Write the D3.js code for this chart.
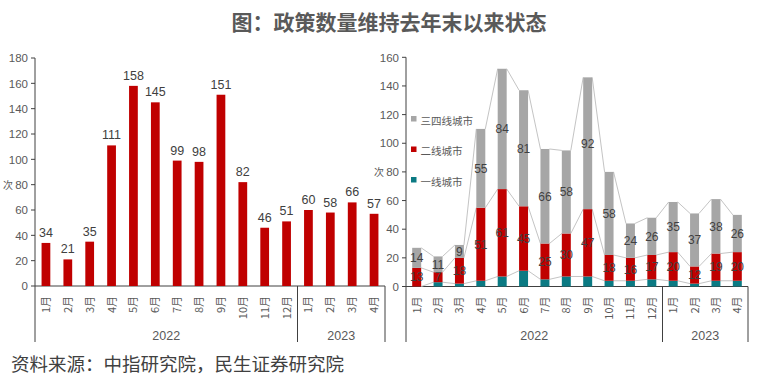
<!DOCTYPE html>
<html lang="zh">
<head>
<meta charset="utf-8">
<title>政策数量</title>
<script src="https://cdn.jsdelivr.net/npm/d3@7/dist/d3.min.js"></script>
<style>
  body, html { margin:0; padding:0; background:#fff; }
  svg { display:block; }
  .num { font-family: "Liberation Sans", Arial, sans-serif; }
  .cjk { font-family: "Noto Sans CJK SC", sans-serif; }
</style>
</head>
<body>
<svg id="chart" width="768" height="387"></svg>
<script>
// ---- data ----
var months = ['1月','2月','3月','4月','5月','6月','7月','8月','9月','10月','11月','12月','1月','2月','3月','4月'];
var years = [ {name:'2022', n:12}, {name:'2023', n:4} ];
var policyTotal = [34,21,35,111,158,145,99,98,151,82,46,51,60,58,66,57];
var tier1 = [0,3,2,4,7,11,5,7,7,4,4,5,4,2,4,4];
var tier2 = [13,7,18,51,61,45,25,30,47,18,16,17,20,12,19,20];
var tier34 = [14,11,9,55,84,81,66,58,92,58,24,26,35,37,38,26];
var leftTicks = d3.range(0, 181, 20);
var rightTicks = d3.range(0, 161, 20);
var seriesNames = ['一线城市','二线城市','三四线城市'];
var seriesColors = ['#0b7a83','#c00000','#a6a6a6'];

var svg = d3.select('#chart');
var ids = months.map(function(m, i){ return i; });
var textCol = '#595959';

// title + source
svg.append('text').attr('class','cjk').attr('x', 389).attr('y', 30)
  .attr('text-anchor','middle').attr('font-size', 21).attr('font-weight','bold')
  .attr('fill', '#595959').text('图：政策数量维持去年末以来状态');
svg.append('text').attr('class','cjk').attr('x', 11).attr('y', 371)
  .attr('font-size', 18.5).attr('fill', '#404040')
  .text('资料来源：中指研究院，民生证券研究院');

// shared: axes + month / year labels under a chart
function drawFrame(g, x, y, ticks, x0, x1, yLabelX) {
  var y0 = y(0);
  // y axis
  g.append('line').attr('x1', x0).attr('x2', x0).attr('y1', y(ticks[ticks.length-1])).attr('y2', 342)
    .attr('stroke', '#404040');
  g.selectAll('.yt').data(ticks).enter().append('line')
    .attr('x1', x0 - 4).attr('x2', x0).attr('y1', function(d){ return y(d); }).attr('y2', function(d){ return y(d); })
    .attr('stroke', '#404040');
  g.selectAll('.yl').data(ticks).enter().append('text').attr('class','num')
    .attr('x', x0 - 7).attr('y', function(d){ return y(d) + 4.2; })
    .attr('text-anchor','end').attr('font-size', 11.5).attr('fill', textCol).text(function(d){ return d; });
  g.append('text').attr('class','cjk').attr('x', yLabelX).attr('y', y(80) + 4)
    .attr('font-size', 10).attr('fill', textCol).text('次');
  // x axis
  g.append('line').attr('x1', x0).attr('x2', x1).attr('y1', y0).attr('y2', y0).attr('stroke', '#404040');
  // month labels
  g.selectAll('.ml').data(ids).enter().append('text').attr('class','cjk')
    .attr('transform', function(d){ return 'translate(' + (x(d) + x.bandwidth()/2 + 4) + ',' + (y0 + 10) + ') rotate(-90)'; })
    .attr('text-anchor','end').attr('font-size', 11).attr('fill', textCol)
    .text(function(d){ return months[d]; });
  // year groups
  var start = 0;
  years.forEach(function(yr) {
    var a = x(start), b = x(start + yr.n - 1) + x.bandwidth();
    g.append('line').attr('x1', b).attr('x2', b).attr('y1', y0).attr('y2', 342).attr('stroke', '#404040');
    g.append('text').attr('class','num').attr('x', (a + b)/2).attr('y', 340)
      .attr('text-anchor','middle').attr('font-size', 12.5).attr('fill', textCol).text(yr.name);
    start += yr.n;
  });
}

// ---- left chart ----
var gl = svg.append('g');
var xl = d3.scaleBand().domain(ids).range([35, 385]);
var yl = d3.scaleLinear().domain([0, 180]).range([286, 58]);
drawFrame(gl, xl, yl, leftTicks, 35, 385, 3);
var bwL = xl.bandwidth() * 0.4;
gl.selectAll('.bar').data(ids).enter().append('rect')
  .attr('x', function(d){ return xl(d) + xl.bandwidth()/2 - bwL/2; })
  .attr('y', function(d){ return yl(policyTotal[d]); })
  .attr('width', bwL).attr('height', function(d){ return yl(0) - yl(policyTotal[d]); })
  .attr('fill', '#c00000');
gl.selectAll('.val').data(ids).enter().append('text').attr('class','num')
  .attr('x', function(d){ return xl(d) + xl.bandwidth()/2; })
  .attr('y', function(d){ return yl(policyTotal[d]) - 6; })
  .attr('text-anchor','middle').attr('font-size', 12.5).attr('fill', '#404040')
  .text(function(d){ return policyTotal[d]; });

// ---- right chart ----
var gr = svg.append('g');
var xr = d3.scaleBand().domain(ids).range([406, 748]);
var yr = d3.scaleLinear().domain([0, 160]).range([286.5, 57.3]);
drawFrame(gr, xr, yr, rightTicks, 406, 748, 374);

var stackData = ids.map(function(i){ return {i:i, t1:tier1[i], t2:tier2[i], t34:tier34[i]}; });
var stacked = d3.stack().keys(['t1','t2','t34'])(stackData);
var bwR = xr.bandwidth() * 0.42;

// series lines between adjacent bars
stacked.forEach(function(layer) {
  var pts = [];
  layer.forEach(function(s, k) {
    var cx = xr(k) + xr.bandwidth()/2;
    pts.push([cx - bwR/2, yr(s[1])], [cx + bwR/2, yr(s[1])]);
  });
  var segs = [];
  for (var k = 1; k < pts.length - 1; k += 2) segs.push([pts[k], pts[k+1]]);
  gr.selectAll(null).data(segs).enter().append('line')
    .attr('x1', function(d){ return d[0][0]; }).attr('y1', function(d){ return d[0][1]; })
    .attr('x2', function(d){ return d[1][0]; }).attr('y2', function(d){ return d[1][1]; })
    .attr('stroke', '#c4c4c4').attr('stroke-width', 1);
});

stacked.forEach(function(layer, li) {
  gr.selectAll(null).data(layer).enter().append('rect')
    .attr('x', function(s, k){ return xr(k) + xr.bandwidth()/2 - bwR/2; })
    .attr('y', function(s){ return yr(s[1]); })
    .attr('width', bwR).attr('height', function(s){ return yr(s[0]) - yr(s[1]); })
    .attr('fill', seriesColors[li]);
  if (li > 0) {
    gr.selectAll(null).data(layer).enter().append('text').attr('class','num')
      .attr('x', function(s, k){ return xr(k) + xr.bandwidth()/2; })
      .attr('y', function(s){ return yr((s[0] + s[1])/2) + 4.3; })
      .attr('text-anchor','middle').attr('font-size', 12).attr('fill', '#404040')
      .text(function(s){ return s[1] - s[0]; });
  }
});

// legend
var legend = gr.selectAll('.lg').data([2,1,0]).enter().append('g')
  .attr('transform', function(d, j){ return 'translate(411,' + (121 + j * 30.5) + ')'; });
legend.append('rect').attr('x', 0).attr('y', -5).attr('width', 5.5).attr('height', 5.5)
  .attr('fill', function(d){ return seriesColors[d]; });
legend.append('text').attr('class','cjk').attr('x', 9.5).attr('y', 3.5)
  .attr('font-size', 10.5).attr('fill', textCol).text(function(d){ return seriesNames[d]; });
</script>
</body>
</html>
